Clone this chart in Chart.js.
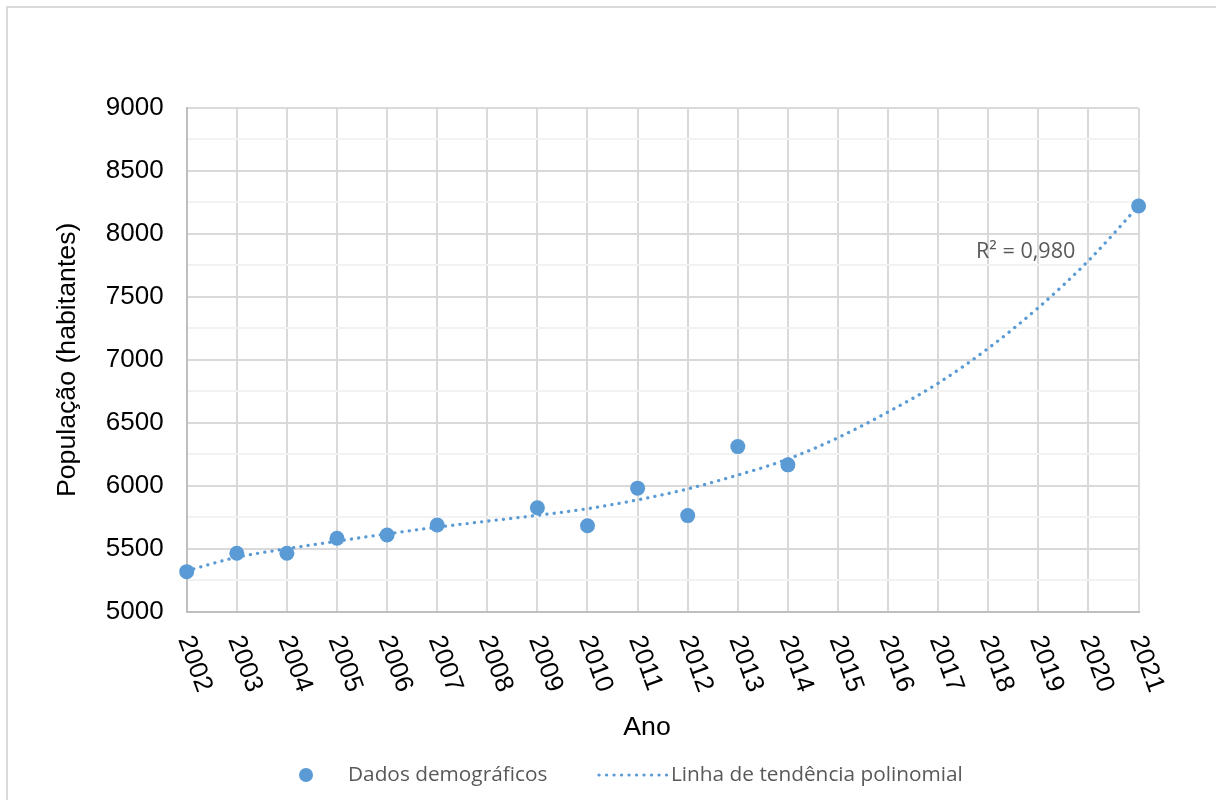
<!DOCTYPE html>
<html>
<head>
<meta charset="utf-8">
<script src="https://cdn.jsdelivr.net/npm/chart.js@4.4.1/dist/chart.umd.min.js"></script>
<style>
  html, body { margin: 0; padding: 0; background: #fff; }
  #wrap { width: 1216px; height: 800px; position: relative; }
  canvas { display: block; }
</style>
</head>
<body>
<div id="wrap"><canvas id="c" width="1216" height="800"></canvas></div>
<script>
// Population counts by year
const years = [2002, 2003, 2004, 2005, 2006, 2007, 2009, 2010, 2011, 2012, 2013, 2014, 2021];
const population = [5318, 5464, 5464, 5583, 5609, 5689, 5826, 5683, 5981, 5763, 6311, 6166, 8222];

// Polynomial trend line, one value per year
const trendYears = [2002, 2003, 2004, 2005, 2006, 2007, 2008, 2009, 2010, 2011,
                    2012, 2013, 2014, 2015, 2016, 2017, 2018, 2019, 2020, 2021];
const trendValues = [5325, 5432, 5500, 5560, 5618, 5671, 5719, 5765, 5818, 5888,
                     5975, 6085, 6212, 6382, 6586, 6815, 7092, 7415, 7788, 8222];

const seriesLabels = ['Dados demográficos', 'Linha de tendência polinomial'];
const xTitle = 'Ano';
const yTitle = 'População (habitantes)';
const rSquaredText = 'R² = 0,980';

const BLUE = '#5b9bd5';
const AXIS_FONT = '"Liberation Sans", Arial, sans-serif';
const NOTE_FONT = '"Open Sans", "Noto Sans", sans-serif';

const decor = {
  id: 'decor',
  beforeDraw(chart) {
    const ctx = chart.ctx;
    ctx.save();
    ctx.fillStyle = '#ffffff';
    ctx.fillRect(0, 0, chart.width, chart.height);
    ctx.restore();
  },
  afterDraw(chart) {
    const ctx = chart.ctx;
    const xs = chart.scales.x;
    const area = chart.chartArea;
    ctx.save();

    // rotated year labels
    ctx.font = '26px ' + AXIS_FONT;
    ctx.fillStyle = '#000000';
    ctx.textAlign = 'left';
    ctx.textBaseline = 'alphabetic';
    xs.ticks.forEach(t => {
      const px = xs.getPixelForValue(t.value);
      ctx.save();
      ctx.translate(px, area.bottom + 24.3);
      ctx.rotate(70 * Math.PI / 180);
      ctx.fillText(String(t.value), 0, 9.3);
      ctx.restore();
    });

    // x axis title
    ctx.font = '26.7px ' + AXIS_FONT;
    ctx.textAlign = 'center';
    ctx.fillText(xTitle, 647, 735);

    // R² note
    ctx.font = '21.6px ' + NOTE_FONT;
    ctx.fillStyle = '#595959';
    ctx.textAlign = 'left';
    ctx.textBaseline = 'middle';
    ctx.fillText(rSquaredText, 976, 252);

    // legend
    const ly = 775;
    const ds = chart.data.datasets;
    ctx.fillStyle = BLUE;
    ctx.beginPath();
    ctx.arc(306, ly, 7, 0, Math.PI * 2);
    ctx.fill();
    ctx.fillStyle = '#595959';
    ctx.font = '20.8px ' + NOTE_FONT;
    ctx.fillText(ds[0].label, 348, ly);

    ctx.strokeStyle = BLUE;
    ctx.lineWidth = 3.2;
    ctx.lineCap = 'round';
    ctx.setLineDash([0.1, 7.4]);
    ctx.beginPath();
    ctx.moveTo(599, ly);
    ctx.lineTo(667, ly);
    ctx.stroke();
    ctx.setLineDash([]);
    ctx.fillText(ds[1].label, 671, ly);

    // outer frame
    ctx.strokeStyle = '#d9d9d9';
    ctx.lineWidth = 2;
    ctx.strokeRect(7, 7, 1240, 840);

    ctx.restore();
  }
};

new Chart(document.getElementById('c').getContext('2d'), {
  type: 'scatter',
  data: {
    datasets: [
      {
        type: 'scatter',
        label: seriesLabels[0],
        data: years.map((x, i) => ({ x: x, y: population[i] })),
        backgroundColor: BLUE,
        borderColor: BLUE,
        borderWidth: 0,
        pointRadius: 7.5,
        pointHoverRadius: 7.5,
        clip: false,
        order: 0
      },
      {
        type: 'line',
        label: seriesLabels[1],
        data: trendYears.map((x, i) => ({ x: x, y: trendValues[i] })),
        borderColor: BLUE,
        borderWidth: 3.3,
        borderDash: [0.1, 7.2],
        borderCapStyle: 'round',
        pointRadius: 0,
        fill: false,
        cubicInterpolationMode: 'monotone',
        order: 1
      }
    ]
  },
  options: {
    responsive: false,
    animation: false,
    devicePixelRatio: 1,
    layout: { padding: { left: 8, top: 108, right: 77.4, bottom: 0 } },
    plugins: {
      legend: { display: false },
      tooltip: { enabled: false }
    },
    scales: {
      x: {
        type: 'linear',
        min: 2002,
        max: 2021,
        ticks: { display: false, stepSize: 1 },
        grid: { color: '#d9d9d9', lineWidth: 2, drawTicks: false },
        border: { color: '#bfbfbf', width: 2 },
        afterFit: s => { s.height = 188.3; }
      },
      y: {
        min: 5000,
        max: 9000,
        ticks: {
          stepSize: 250,
          autoSkip: false,
          padding: 23,
          color: '#000000',
          font: { family: AXIS_FONT, size: 26 },
          callback: v => (v % 500 === 0 ? String(v) : '')
        },
        grid: {
          color: c => (c.tick && c.tick.value % 500 === 0 ? '#d9d9d9' : '#f2f2f2'),
          lineWidth: 2,
          drawTicks: false
        },
        border: { color: '#bfbfbf', width: 2 },
        title: {
          display: true,
          text: yTitle,
          color: '#000000',
          font: { family: AXIS_FONT, size: 26.7 },
          padding: { top: 43.4, bottom: 0 }
        },
        afterFit: s => { s.width = 178.7; }
      }
    }
  },
  plugins: [decor]
});
</script>
</body>
</html>
